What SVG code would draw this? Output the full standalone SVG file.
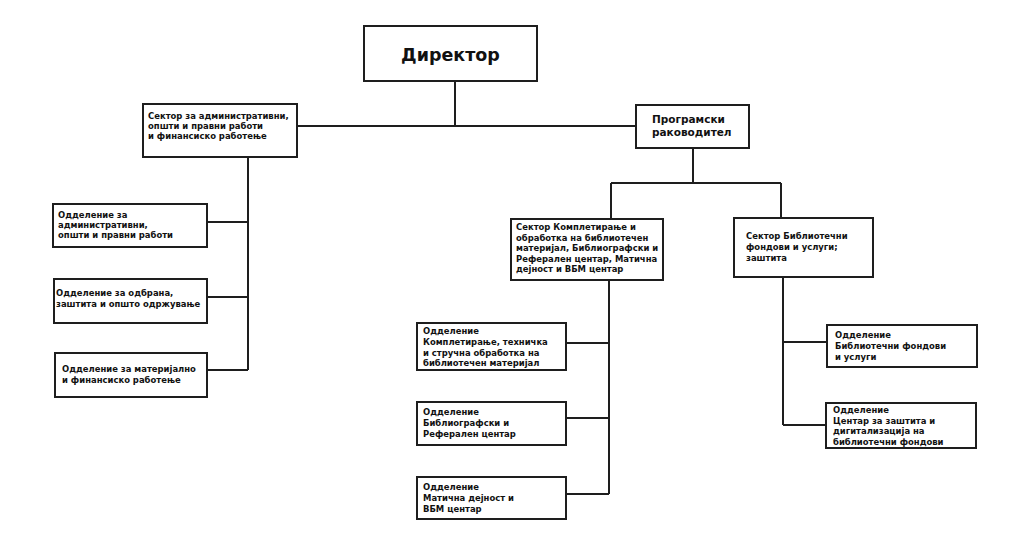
<svg xmlns="http://www.w3.org/2000/svg" width="1024" height="544" viewBox="0 0 1024 544">
<style>
.box{fill:#fff;stroke:#1e1e1e;stroke-width:2}
.ln{fill:none;stroke:#1e1e1e;stroke-width:2}
text{font-family:"DejaVu Sans",Verdana,sans-serif;font-weight:bold;fill:#111;font-size:8.45px}
.big{font-size:17.5px}
.mid{font-size:10.5px}
</style>
<rect width="1024" height="544" fill="#fff"/>
<g id="connectors">
<path class="ln" d="M455 81V126M297 126H636"/>
<path class="ln" d="M248 157V370M207 222H248M207 297H248M207 370H248"/>
<path class="ln" d="M693 148V183M611 183H781M611 183V218M781 183V218"/>
<path class="ln" d="M609 280V494M566 343H609M566 418H609M566 494H609"/>
<path class="ln" d="M783 277V425M783 342H827M783 425H826"/>
</g>
<g id="director">
<rect class="box" x="364" y="26" width="173" height="55"/>
<text class="big" x="450.5" y="61" text-anchor="middle">Директор</text>
</g>
<g id="sector-admin">
<rect class="box" x="143" y="104" width="154" height="53"/>
<text x="148" y="119">Сектор за административни,</text>
<text x="148" y="129">општи и правни работи</text>
<text x="148" y="139">и финансиско работење</text>
</g>
<g id="program-lead">
<rect class="box" x="636" y="105" width="113" height="43"/>
<text class="mid" x="652" y="123">Програмски</text>
<text class="mid" x="652" y="136">раководител</text>
</g>
<g id="dept-admin">
<rect class="box" x="53" y="204" width="154" height="43"/>
<text x="58" y="218">Одделение за</text>
<text x="58" y="228">административни,</text>
<text x="58" y="238">општи и правни работи</text>
</g>
<g id="dept-defense">
<rect class="box" x="54" y="279" width="153" height="44"/>
<text x="56" y="296">Одделение за одбрана,</text>
<text x="56" y="307">заштита и општо одржување</text>
</g>
<g id="dept-finance">
<rect class="box" x="55" y="353" width="152" height="44"/>
<text x="62" y="372">Одделение за материјално</text>
<text x="62" y="383">и финансиско работење</text>
</g>
<g id="sector-compl">
<rect class="box" x="511" y="219" width="152" height="61"/>
<text x="516" y="230">Сектор Комплетирање и</text>
<text x="516" y="240.5">обработка на библиотечен</text>
<text x="516" y="251">материјал, Библиографски и</text>
<text x="516" y="261.5">Реферален центар, Матична</text>
<text x="516" y="272">дејност и ВБМ центар</text>
</g>
<g id="sector-bibl">
<rect class="box" x="734" y="218" width="139" height="59"/>
<text x="746" y="239">Сектор Библиотечни</text>
<text x="746" y="250">фондови и услуги;</text>
<text x="746" y="261">заштита</text>
</g>
<g id="dept-compl">
<rect class="box" x="417" y="323" width="149" height="47"/>
<text x="423" y="334">Одделение</text>
<text x="423" y="345">Комплетирање, техничка</text>
<text x="423" y="356">и стручна обработка на</text>
<text x="423" y="366">библиотечен материјал</text>
</g>
<g id="dept-biblio">
<rect class="box" x="417" y="402" width="149" height="43"/>
<text x="423" y="415">Одделение</text>
<text x="423" y="426">Библиографски и</text>
<text x="423" y="437">Реферален центар</text>
</g>
<g id="dept-matic">
<rect class="box" x="417" y="477" width="149" height="42"/>
<text x="423" y="490">Одделение</text>
<text x="423" y="501">Матична дејност и</text>
<text x="423" y="512">ВБМ центар</text>
</g>
<g id="dept-funds">
<rect class="box" x="827" y="325" width="150" height="42"/>
<text x="835" y="338">Одделение</text>
<text x="835" y="349">Библиотечни фондови</text>
<text x="835" y="360">и услуги</text>
</g>
<g id="dept-digital">
<rect class="box" x="826" y="403" width="150" height="45"/>
<text x="833" y="413">Одделение</text>
<text x="833" y="423.5">Центар за заштита и</text>
<text x="833" y="434">дигитализација на</text>
<text x="833" y="444.5">библиотечни фондови</text>
</g>
</svg>
